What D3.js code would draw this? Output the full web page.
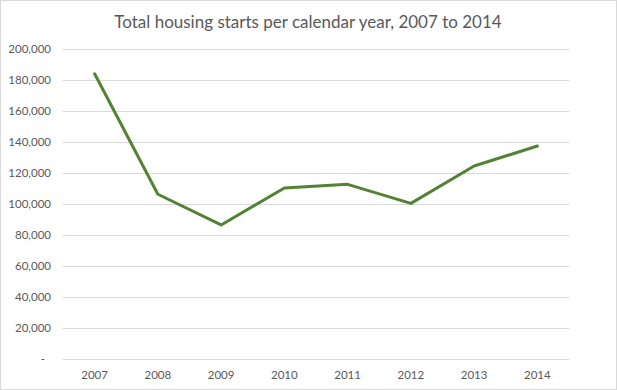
<!DOCTYPE html>
<html><head><meta charset="utf-8">
<script src="https://cdnjs.cloudflare.com/ajax/libs/d3/7.8.5/d3.min.js"></script>
<style>body{margin:0;background:#fff}svg{display:block}</style>
</head><body>
<script>
const years = ["2007","2008","2009","2010","2011","2012","2013","2014"];
const starts = [184000,106300,86500,110300,112700,100400,124500,137400];
const yTicks = [0,20000,40000,60000,80000,100000,120000,140000,160000,180000,200000];
const title = "Total housing starts per calendar year, 2007 to 2014";

const W=617,H=390;
const svg=d3.select("body").append("svg").attr("width",W).attr("height",H);
svg.append("rect").attr("x",0.5).attr("y",0.5).attr("width",W-1).attr("height",H-1)
  .attr("fill","#fff").attr("stroke","#d9d9d9");
const font="Lato, 'Open Sans', sans-serif";
svg.append("text").attr("x",308).attr("y",28).attr("text-anchor","middle")
  .attr("font-family",font).attr("font-size",17).attr("fill","#595959").text(title);

const x=d3.scaleBand().domain(years).range([63,569]);
const y=d3.scaleLinear().domain([0,200000]).range([359,49]);

svg.append("g").selectAll("line").data(yTicks).join("line")
  .attr("x1",63).attr("x2",569).attr("y1",d=>Math.round(y(d))+0.5).attr("y2",d=>Math.round(y(d))+0.5)
  .attr("stroke","#d9d9d9").attr("stroke-width",1);

const fmt=d3.format(",");
svg.append("g").selectAll("text").data(yTicks).join("text")
  .attr("x",d=>d===0?45:51).attr("y",d=>y(d)+4).attr("text-anchor","end")
  .attr("font-family",font).attr("font-size",11.5).attr("fill","#595959")
  .text(d=>d===0?"-":fmt(d));

svg.append("g").selectAll("text").data(years).join("text")
  .attr("x",d=>x(d)+x.bandwidth()/2).attr("y",379).attr("text-anchor","middle")
  .attr("font-family",font).attr("font-size",11.5).attr("fill","#595959").text(d=>d);

const line=d3.line().x((d,i)=>x(years[i])+x.bandwidth()/2).y(d=>y(d));
svg.append("path").datum(starts).attr("d",line).attr("fill","none")
  .attr("stroke","#548235").attr("stroke-width",3).attr("stroke-linejoin","round").attr("stroke-linecap","round");
</script>
</body></html>
